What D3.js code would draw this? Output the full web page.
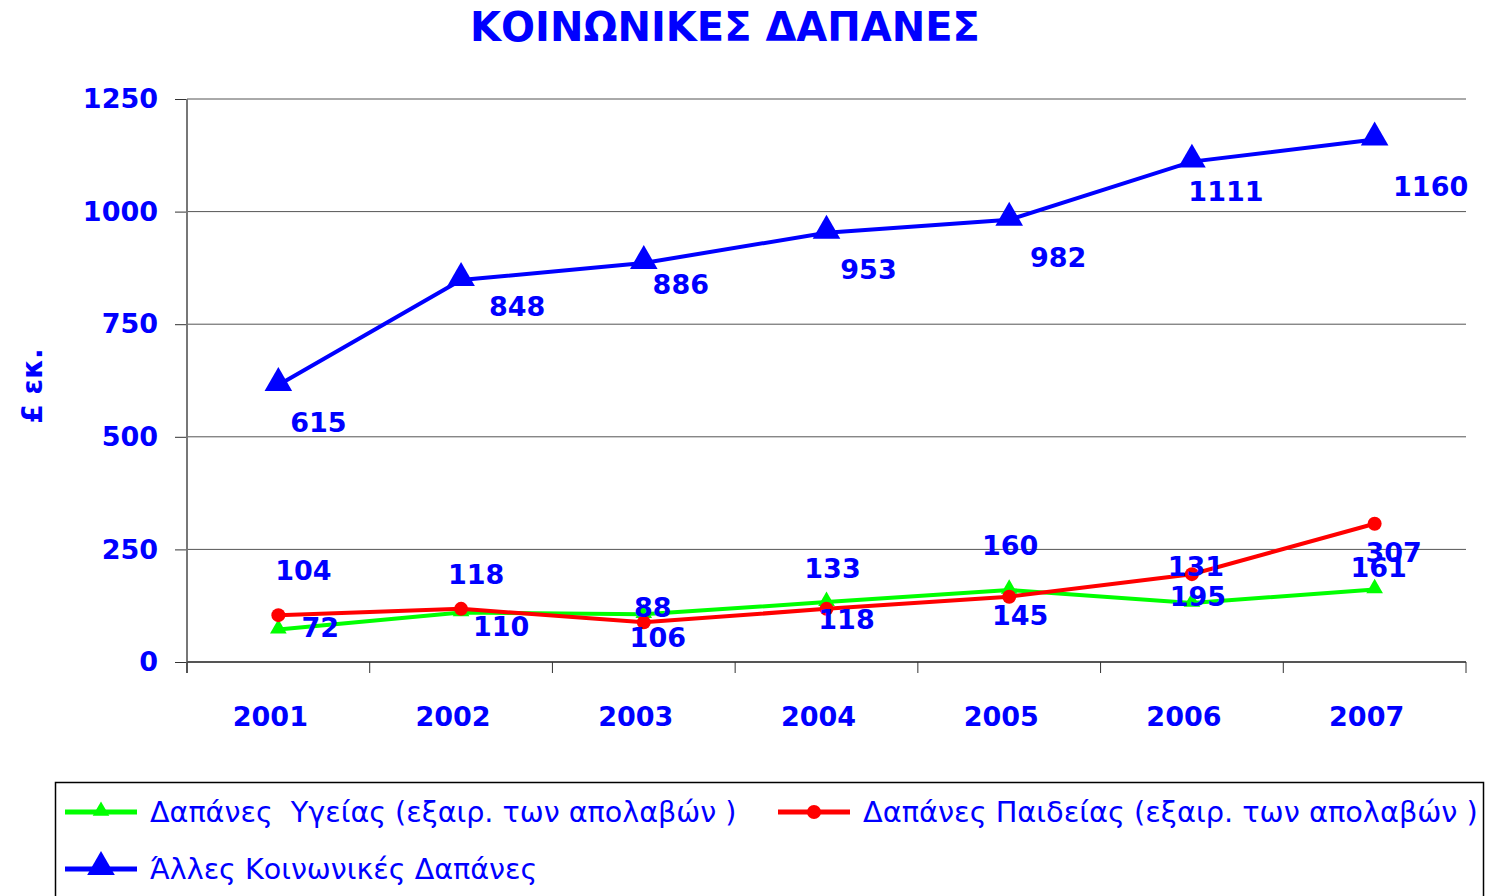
<!DOCTYPE html>
<html>
<head>
<meta charset="utf-8">
<script src="https://cdn.jsdelivr.net/npm/d3@7"></script>
<style>
  body { margin: 0; background: #fff; }
  text { font-family: "Comic Sans MS", "DejaVu Sans", sans-serif; fill: #0000ff; white-space: pre; }
  .bold { font-weight: bold; }
</style>
</head>
<body>
<div id="chart"></div>
<script>
const years = ['2001', '2002', '2003', '2004', '2005', '2006', '2007'];
const health = [72, 110, 106, 133, 160, 131, 161];
const education = [104, 118, 88, 118, 145, 195, 307];
const other = [615, 848, 886, 953, 982, 1111, 1160];
const yTicks = [0, 250, 500, 750, 1000, 1250];

// label offsets from the marker, as placed in the original
const healthOffsets = [[42, -2], [40, 14], [14, 23], [6, -34], [1, -44], [4, -36], [4, -22]];
const educationOffsets = [[25, -45], [15, -34], [9, -15], [20, 11], [11, 19], [6, 22], [19, 29]];
const otherOffsets = [[40, 37], [56, 26], [37, 22], [42, 37], [49, 38], [34, 30], [56, 47]];

const series = [
  { name: 'Δαπάνες  Υγείας (εξαιρ. των απολαβών )', values: health, offsets: healthOffsets, color: '#00ff00', marker: 'smallTri', size: 28.6 },
  { name: 'Δαπάνες Παιδείας (εξαιρ. των απολαβών )', values: education, offsets: educationOffsets, color: '#ff0000', marker: 'circle', size: 28.8 },
  { name: 'Άλλες Κοινωνικές Δαπάνες', values: other, offsets: otherOffsets, color: '#0000ff', marker: 'bigTri', size: 28.6 }
];

const width = 1485;
const height = 896;
const plot = { left: 187, right: 1466, top: 99, bottom: 662 };

const svg = d3.select('#chart').append('svg')
  .attr('width', width)
  .attr('height', height);

const x = d3.scaleBand()
  .domain(years)
  .range([plot.left, plot.right])
  .padding(0);

const y = d3.scaleLinear()
  .domain([0, 1250])
  .range([plot.bottom, plot.top]);

// title
svg.append('text')
  .attr('class', 'bold')
  .attr('x', 725)
  .attr('y', 41)
  .attr('text-anchor', 'middle')
  .style('font-size', '40px')
  .text('ΚΟΙΝΩΝΙΚΕΣ ΔΑΠΑΝΕΣ');

// gridlines
svg.append('g')
  .selectAll('line')
  .data(yTicks.filter(d => d > 0))
  .enter().append('line')
    .attr('x1', plot.left)
    .attr('x2', plot.right)
    .attr('y1', d => y(d))
    .attr('y2', d => y(d))
    .attr('stroke', '#555')
    .attr('stroke-width', 1);

// y axis
let yAxis = svg.append('g')
  .attr('transform', 'translate(' + plot.left + ',0)')
  .call(d3.axisLeft(y).tickValues(yTicks).tickFormat(d3.format('d')).tickSize(12).tickPadding(17));
yAxis.select('.domain').remove();
yAxis.selectAll('.tick line').attr('stroke', '#333');
yAxis.selectAll('.tick text')
  .attr('class', 'bold')
  .style('font-size', '27px')
  .attr('fill', '#0000ff');

svg.append('line')
  .attr('x1', plot.left).attr('x2', plot.left)
  .attr('y1', plot.top).attr('y2', plot.bottom + 11)
  .attr('stroke', '#777')
  .attr('stroke-width', 2);

// x axis
svg.append('line')
  .attr('x1', plot.left).attr('x2', plot.right)
  .attr('y1', plot.bottom).attr('y2', plot.bottom)
  .attr('stroke', '#555')
  .attr('stroke-width', 2);

let edges = years.map(d => x(d)).concat([plot.right]);
svg.append('g')
  .selectAll('line')
  .data(edges)
  .enter().append('line')
    .attr('x1', d => d).attr('x2', d => d)
    .attr('y1', plot.bottom).attr('y2', plot.bottom + 11)
    .attr('stroke', '#333');

let xAxis = svg.append('g')
  .attr('transform', 'translate(-8,' + plot.bottom + ')')
  .call(d3.axisBottom(x).tickSize(0).tickPadding(45));
xAxis.select('.domain').remove();
xAxis.selectAll('.tick text')
  .attr('class', 'bold')
  .style('font-size', '27px')
  .attr('fill', '#0000ff');

// y axis title
svg.append('text')
  .attr('class', 'bold')
  .attr('transform', 'translate(42,386) rotate(-90)')
  .attr('text-anchor', 'middle')
  .style('font-size', '28px')
  .text('£ εκ.');

function drawMarker(g, type, color) {
  if (type === 'circle') {
    g.append('circle').attr('r', 7).attr('fill', color);
  } else {
    let s = type === 'bigTri' ? 330 : 120;
    g.append('path')
      .attr('d', d3.symbol().type(d3.symbolTriangle).size(s))
      .attr('transform', 'translate(0,' + (type === 'bigTri' ? -2 : -1) + ')')
      .attr('fill', color);
  }
}

const line = d3.line()
  .x((d, i) => x(years[i]) + x.bandwidth() / 2)
  .y(d => y(d));

series.map((s) => {
  svg.append('path')
    .datum(s.values)
    .attr('d', line)
    .attr('fill', 'none')
    .attr('stroke', s.color)
    .attr('stroke-width', 4);
});

series.map((s) => {
  s.values.map((v, i) => {
    let g = svg.append('g')
      .attr('transform', 'translate(' + (x(years[i]) + x.bandwidth() / 2) + ',' + y(v) + ')');
    drawMarker(g, s.marker, s.color);
  });
});

series.map((s) => {
  svg.append('g')
    .selectAll('text')
    .data(s.values)
    .enter().append('text')
      .attr('class', 'bold')
      .attr('x', (d, i) => x(years[i]) + x.bandwidth() / 2 + s.offsets[i][0])
      .attr('y', (d, i) => y(d) + s.offsets[i][1])
      .attr('text-anchor', 'middle')
      .attr('dominant-baseline', 'central')
      .style('font-size', '27px')
      .text(d => d);
});

// legend
svg.append('rect')
  .attr('x', 55.5)
  .attr('y', 782.5)
  .attr('width', 1428)
  .attr('height', 130)
  .attr('fill', 'none')
  .attr('stroke', '#000')
  .attr('stroke-width', 1.5);

const legendPos = [[65, 812], [778, 812], [65, 869]];
series.map((s, i) => {
  let g = svg.append('g')
    .attr('transform', 'translate(' + legendPos[i][0] + ',' + legendPos[i][1] + ')');
  g.append('line')
    .attr('x1', 0).attr('x2', 72)
    .attr('stroke', s.color)
    .attr('stroke-width', 5);
  let m = g.append('g').attr('transform', 'translate(36,0)');
  drawMarker(m, s.marker, s.color);
  g.append('text')
    .attr('x', 85)
    .attr('y', 0)
    .attr('dominant-baseline', 'central')
    .style('font-size', s.size + 'px')
    .text(s.name);
});
</script>
</body>
</html>
